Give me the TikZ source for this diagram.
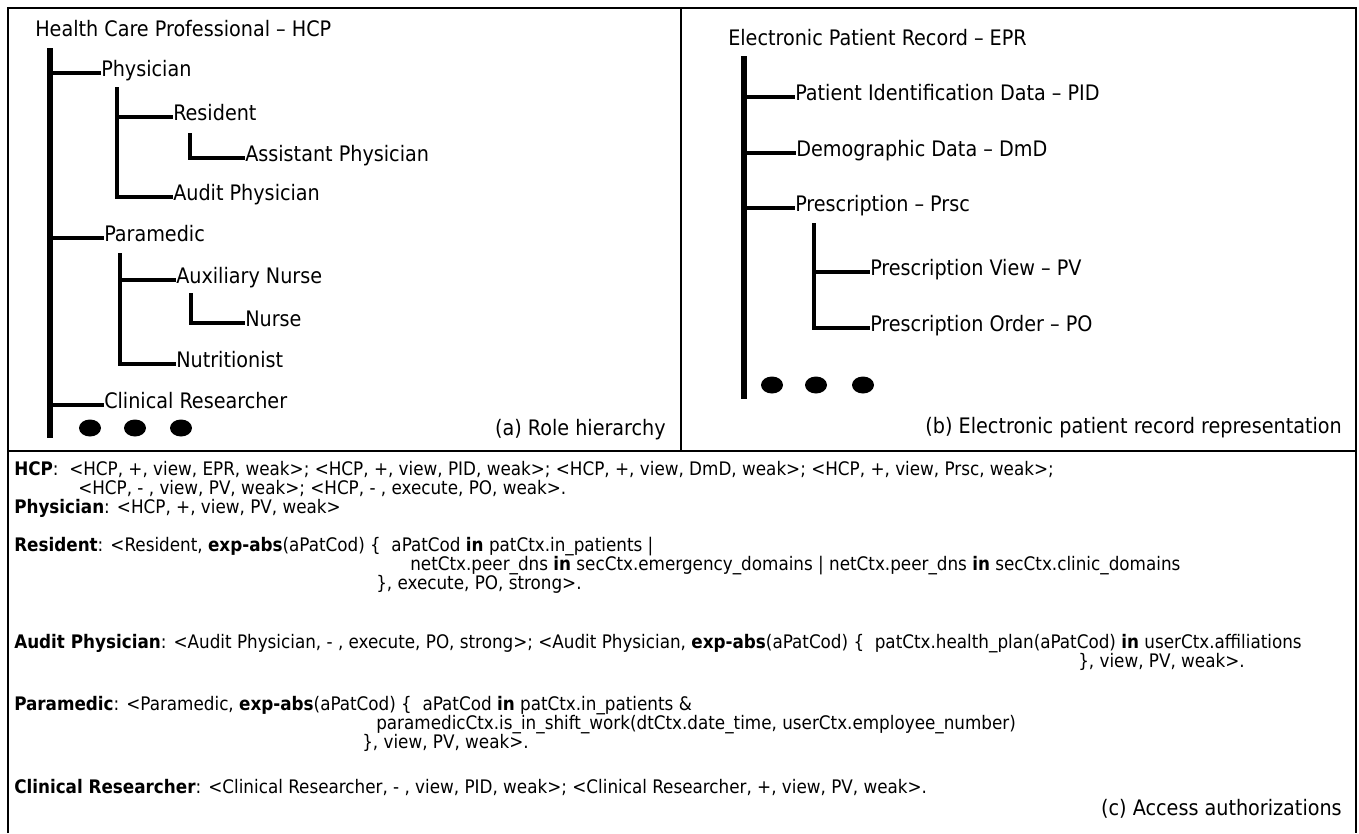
\documentclass[tikz,border=0pt]{standalone}
\usepackage{fontspec}
\setmainfont{DejaVu Sans Condensed}
\begin{document}
\begin{tikzpicture}
[x=0.75pt,y=-0.75pt,
 tree/.style={anchor=west,inner sep=0pt,font=\fontsize{16}{19}\selectfont,text height=0.75em,text depth=0.2em},
 rule/.style={anchor=west,inner sep=0pt,font=\fontsize{14}{16}\selectfont,text height=0.75em,text depth=0.2em},
 trunk/.style={line width=4.4pt},
 twig/.style={line width=3.4pt}]
\useasboundingbox (0,0) rectangle (1359,833);
\draw [line width=1.2pt] (8,833) -- (8,8) -- (1356,8) -- (1356,833);
\draw [line width=2.2pt] (8,451) -- (1356,451);
\draw [line width=2pt] (681,8) -- (681,451);
\node [tree] (hcp) at (35,33) {Health Care Professional – HCP};
\node [tree] (phy) at (101,73) {Physician};
\node [tree] (res) at (173,117) {Resident};
\node [tree] (asp) at (245,158) {Assistant Physician};
\node [tree] (aud) at (173,197) {Audit Physician};
\node [tree] (par) at (104,238) {Paramedic};
\node [tree] (aux) at (176,280) {Auxiliary Nurse};
\node [tree] (nur) at (245,323) {Nurse};
\node [tree] (nut) at (176,364) {Nutritionist};
\node [tree] (cre) at (104,405) {Clinical Researcher};
\coordinate (hcp-top) at (50,48);
\coordinate (hcp-end) at (50,438);
\coordinate (phy-top) at (117,87);
\coordinate (res-top) at (190,133);
\coordinate (par-top) at (120,253);
\coordinate (aux-top) at (191,293);
\draw [trunk] (hcp-top) -- (hcp-end);
\foreach \n in {phy,par,cre}
  \draw [twig] (hcp-top |- \n.west) -- (\n.west);
\draw [twig] (phy-top) |- (aud.west);
\draw [twig] (phy-top |- res.west) -- (res.west);
\draw [twig] (res-top) |- (asp.west);
\draw [twig] (par-top) |- (nut.west);
\draw [twig] (par-top |- aux.west) -- (aux.west);
\draw [twig] (aux-top) |- (nur.west);
\foreach \x in {90,135,181}
  \fill (\x,428) ellipse (11 and 8.5);
\node [tree,anchor=east] (capa) at (666,432) {(a) Role hierarchy};
\node [tree] (epr) at (728,42) {Electronic Patient Record – EPR};
\node [tree] (pid) at (795,97) {Patient Identification Data – PID};
\node [tree] (dmd) at (796,153) {Demographic Data – DmD};
\node [tree] (prsc) at (795,208) {Prescription – Prsc};
\node [tree] (pv) at (870,272) {Prescription View – PV};
\node [tree] (po) at (870,328) {Prescription Order – PO};
\coordinate (epr-top) at (744,56);
\coordinate (epr-end) at (744,399);
\coordinate (prsc-top) at (814,223);
\draw [trunk] (epr-top) -- (epr-end);
\foreach \n in {pid,dmd,prsc}
  \draw [twig] (epr-top |- \n.west) -- (\n.west);
\draw [twig] (prsc-top) |- (po.west);
\draw [twig] (prsc-top |- pv.west) -- (pv.west);
\foreach \x in {772,816,863}
  \fill (\x,385) ellipse (11 and 8.5);
\node [tree,anchor=east] (capb) at (1342,430) {(b) Electronic patient record representation};
\node [rule] (r-hcp) at (14,472) {\textbf{HCP}:\ \ <HCP, +, view, EPR, weak>; <HCP, +, view, PID, weak>; <HCP, +, view, DmD, weak>; <HCP, +, view, Prsc, weak>;};
\node [rule] (r-hcp2) at (78,491) {<HCP, - , view, PV, weak>; <HCP, - , execute, PO, weak>.};
\node [rule] (r-phy) at (14,510) {\textbf{Physician}: <HCP, +, view, PV, weak>};
\node [rule] (r-res) at (14,548) {\textbf{Resident}: <Resident, \textbf{exp-abs}(aPatCod) \{\ \ aPatCod \textbf{in} patCtx.in\_patients |};
\node [rule] (r-res2) at (410,567) {netCtx.peer\_dns \textbf{in} secCtx.emergency\_domains | netCtx.peer\_dns \textbf{in} secCtx.clinic\_domains};
\node [rule] (r-res3) at (376,586) {\}, execute, PO, strong>.};
\node [rule] (r-aud) at (14,645) {\textbf{Audit Physician}: <Audit Physician, - , execute, PO, strong>; <Audit Physician, \textbf{exp-abs}(aPatCod) \{\ \ patCtx.health\_plan(aPatCod) \textbf{in} userCtx.affiliations};
\node [rule] (r-aud2) at (1078,664) {\}, view, PV, weak>.};
\node [rule] (r-par) at (14,707) {\textbf{Paramedic}: <Paramedic, \textbf{exp-abs}(aPatCod) \{\ \ aPatCod \textbf{in} patCtx.in\_patients \&};
\node [rule] (r-par2) at (376,726) {paramedicCtx.is\_in\_shift\_work(dtCtx.date\_time, userCtx.employee\_number)};
\node [rule] (r-par3) at (362,745) {\}, view, PV, weak>.};
\node [rule] (r-cre) at (14,790) {\textbf{Clinical Researcher}: <Clinical Researcher, - , view, PID, weak>; <Clinical Researcher, +, view, PV, weak>.};
\node [tree,anchor=east] (capc) at (1342,812) {(c) Access authorizations};
\end{tikzpicture}
\end{document}
